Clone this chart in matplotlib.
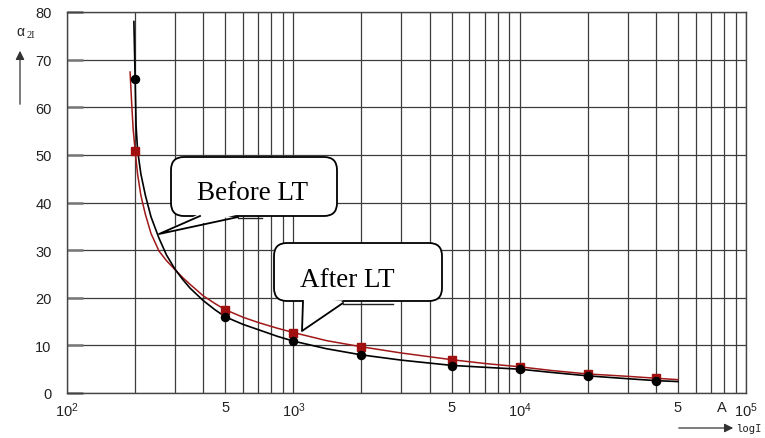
import numpy as np
import matplotlib
matplotlib.use("Agg")
import matplotlib.pyplot as plt
from matplotlib.ticker import LogLocator, NullFormatter, FixedLocator
from matplotlib.patches import FancyBboxPatch, Polygon, FancyArrowPatch
from matplotlib.lines import Line2D
from matplotlib.transforms import Affine2D

plt.rcParams['font.family'] = ['Liberation Sans', 'DejaVu Sans']
plt.rcParams['mathtext.fontset'] = 'custom'
plt.rcParams['mathtext.rm'] = 'Liberation Sans'
plt.rcParams['mathtext.it'] = 'Liberation Sans:italic'

# ---------------- data ----------------
marker_x = [200, 500, 1000, 2000, 5000, 10000, 20000, 40000]
before_y = [66.0, 16.0, 10.9, 8.0, 5.7, 5.1, 3.6, 2.6]
after_y = [50.9, 17.4, 12.7, 9.7, 7.0, 5.5, 4.0, 3.1]

before_curve_x = [197.5, 200, 202, 205, 212, 222, 235, 255, 275, 300, 325, 350, 400,
                  450, 500, 600, 700, 850, 1000, 1400, 2000, 3000, 5000, 7000,
                  10000, 14000, 20000, 30000, 40000, 50000]
before_curve_y = [78.0, 66.0, 56.0, 51.0, 46.0, 41.5, 37.0, 32.5, 29.0, 26.0, 23.8, 22.0, 19.4,
                  17.5, 16.0, 14.4, 13.3, 11.9, 10.9, 9.3, 8.0, 6.9, 5.8, 5.4,
                  5.0, 4.3, 3.6, 3.0, 2.6, 2.4]
after_curve_x = [190, 193, 196, 200, 205, 212, 222, 235, 255, 275, 300, 325, 350, 400,
                 450, 500, 600, 700, 850, 1000, 1400, 2000, 3000, 5000, 7000,
                 10000, 14000, 20000, 30000, 40000, 50000]
after_curve_y = [67.4, 61.0, 55.4, 50.9, 46.0, 41.5, 37.5, 33.5, 29.8, 27.8, 25.9, 24.2, 22.8, 20.4,
                 18.8, 17.5, 15.9, 14.8, 13.6, 12.7, 11.0, 9.7, 8.4, 7.0, 6.2,
                 5.5, 4.7, 4.0, 3.5, 3.1, 2.8]

x_ticks = [100, 500, 1000, 5000, 10000, 50000, 100000]
x_tick_labels = ['$10^2$', '5', '$10^3$', '5', '$10^4$', '5', '$10^5$']
y_ticks = [0, 10, 20, 30, 40, 50, 60, 70, 80]

# ---------------- figure ----------------
W, H = 765, 439
fig = plt.figure(figsize=(W / 100, H / 100), dpi=100)
fig.patch.set_facecolor('white')
ax = fig.add_axes([67 / W, 1 - 394 / H, (746 - 67) / W, (394 - 13) / H])
ax.set_xscale('log')
ax.set_xlim(100, 100000)
ax.set_ylim(0, 80)

grid_c = '#3c3c3c'
ax.xaxis.set_major_locator(FixedLocator(x_ticks))
ax.set_xticklabels(x_tick_labels)
ax.xaxis.set_minor_locator(LogLocator(base=10, subs=np.arange(2, 10), numticks=30))
ax.xaxis.set_minor_formatter(NullFormatter())
ax.set_yticks(y_ticks)
ax.grid(True, which='both', axis='x', color=grid_c, lw=0.9)
ax.grid(True, which='major', axis='y', color=grid_c, lw=0.9)
ax.set_axisbelow(True)
ax.tick_params(axis='x', which='both', length=0, pad=5, labelsize=10.5, colors='#222')
ax.tick_params(axis='y', which='both', direction='in', length=11.5, width=1.8,
               color='#777777', pad=11, labelsize=10.5, labelcolor='#222')
ax.yaxis.set_ticks_position('left')
for s in ax.spines.values():
    s.set_color('#444444')
    s.set_linewidth(1.0)

# curves
ax.plot(after_curve_x, after_curve_y, color='#a01818', lw=1.1, zorder=3)
ax.plot(before_curve_x, before_curve_y, color='black', lw=1.2, zorder=3)
ax.plot(marker_x, after_y, ls='none', marker='s', ms=5.5, color='#a01010', zorder=4)
ax.plot(marker_x, before_y, ls='none', marker='o', ms=5.8, color='black', zorder=5)

# "A" unit label
ax.annotate('A', xy=(78000, 0), xycoords=('data', 'axes fraction'), xytext=(0, -5),
            textcoords='offset points', ha='center', va='top', fontsize=10.5, color='#222')

# ---------------- pixel-coordinate helpers ----------------
ptrans = Affine2D().scale(1 / W, -1 / H).translate(0, 1) + fig.transFigure


def callout(l, t, r, b, tip, base1, base2, shadow_end, text, tx, ty):
    box = FancyBboxPatch((l, t), r - l, b - t,
                         boxstyle='round,pad=0,rounding_size=13',
                         transform=ptrans, facecolor='white', edgecolor='black',
                         lw=1.3, zorder=10)
    fig.add_artist(box)
    cover = Polygon([(base1[0], base1[1] - 2.5), tip, (base2[0], base2[1] - 2.5)],
                    closed=True, transform=ptrans, facecolor='white',
                    edgecolor='none', zorder=11)
    fig.add_artist(cover)
    fig.add_artist(Line2D([base1[0], tip[0], base2[0]], [base1[1], tip[1], base2[1]],
                          transform=ptrans, color='black', lw=1.3, zorder=12))
    fig.add_artist(Line2D([base2[0], shadow_end], [base2[1] + 1, base2[1] + 1],
                          transform=ptrans, color='#222', lw=1.0, zorder=12))
    fig.text(tx / W, 1 - ty / H, text, fontsize=19.5, family=['Liberation Serif'],
             ha='left', va='baseline', zorder=13)


callout(171, 158, 337, 217, (159, 235), (200, 217), (238, 218), 262,
        'Before LT', 197, 200)
callout(274, 244, 442, 302, (302, 332), (303, 302), (343, 304), 393,
        'After LT', 300, 287)

# axis labels with arrows
fig.text(16 / W, 1 - 32 / H, 'α', fontsize=10, ha='left', va='center', color='#222')
fig.text(27 / W, 1 - 36 / H, '2I', fontsize=7.5, family=['Liberation Serif'],
         ha='left', va='center', color='#222')
fig.add_artist(FancyArrowPatch(
    (20, 108), (20, 49), transform=ptrans, arrowstyle='-|>', mutation_scale=13,
    color='#333', lw=0.9, zorder=10))
fig.add_artist(FancyArrowPatch(
    (676, 429), (736, 429), transform=ptrans, arrowstyle='-|>', mutation_scale=13,
    color='#333', lw=0.9, zorder=10))
fig.text(762 / W, 1 - 429 / H, 'logI', fontsize=7.6, family=['DejaVu Sans Mono'],
         ha='right', va='center', color='#222')

fig.savefig('out.png', dpi=100, facecolor='white')
